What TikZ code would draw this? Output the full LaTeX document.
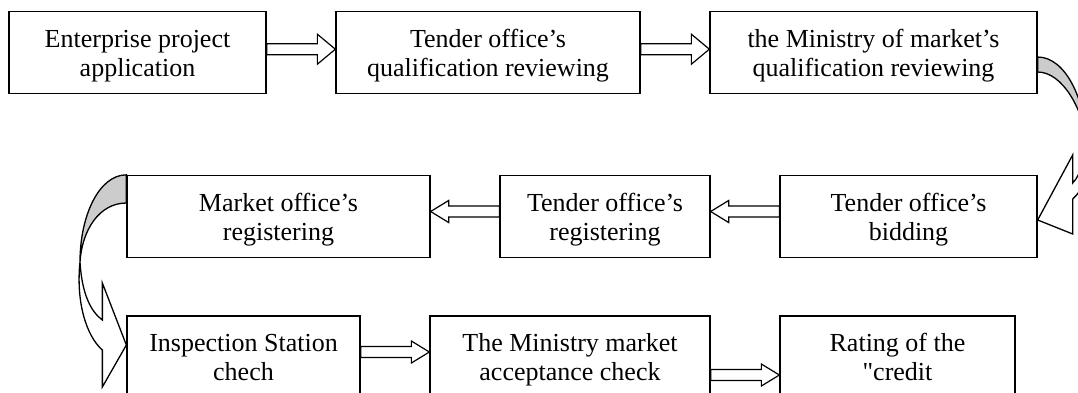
\documentclass[tikz,border=0pt]{standalone}
\usepackage{fontspec}
\setmainfont{Liberation Serif}[Ligatures=TeXOff]
\usetikzlibrary{calc}

% hollow block arrow between two points
\newcommand{\hollowarrow}[3][11]{%
  \path (#2) coordinate (ha) (#3) coordinate (hz);
  \path ($(hz)!18pt!(ha)$) coordinate (hb);
  \draw[line width=1.2pt, fill=white, line join=miter]
    ($(ha)!5.5pt!90:(hz)$) -- ($(hb)!5.5pt!-90:(ha)$) -- ($(hb)!#1pt!-90:(ha)$)
    -- (hz) -- ($(hb)!#1pt!90:(ha)$) -- ($(hb)!5.5pt!90:(ha)$)
    -- ($(ha)!5.5pt!-90:(hz)$) -- cycle;}

\begin{document}
\begin{tikzpicture}[
                x=1pt, y=-1pt,
                box/.style={draw, line width=1.3pt, minimum height=82pt, inner sep=0pt,
                            align=center, font=\fontsize{26}{29}\selectfont,
                            text height=53pt, text depth=6pt},
                ribbon/.style={draw, line width=1.3pt, fill=black!20},
                front/.style={draw, line width=1.3pt, fill=white, line join=miter}
            ]
            \useasboundingbox (0,0) rectangle (1078,392);
            \clip (0,0) rectangle (1078,392);

            % first row
            \node[box, minimum width=257pt] (app) at (137.5,52.5) {Enterprise project\\application};
            \node[box, minimum width=304pt] (tenderqual) at (488,52.5) {Tender office’s\\qualification reviewing};
            \node[box, minimum width=327pt] (ministryqual) at (873.5,52.5) {the Ministry of market’s\\qualification reviewing};

            % second row
            \node[box, minimum width=257pt] (bidding) at (908.5,216.5) {Tender office’s\\bidding};
            \node[box, minimum width=210pt] (tenderreg) at (605,216.5) {Tender office’s\\registering};
            \node[box, minimum width=303pt] (marketreg) at (278.5,216.5) {Market office’s\\registering};

            % third row
            \node[box, minimum width=233pt] (inspect) at (243.5,357) {Inspection Station\\chech};
            \node[box, minimum width=280pt] (accept) at (570,357) {The Ministry market\\acceptance check};
            \node[box, minimum width=235pt] (rating) at (897.5,357) {Rating of the\\"credit};

            % straight arrows
            \hollowarrow[15]{[yshift=3.3pt]app.east}{[yshift=3.3pt]tenderqual.west}
            \hollowarrow[15]{[yshift=3.3pt]tenderqual.east}{[yshift=3.3pt]ministryqual.west}
            \hollowarrow{[yshift=5pt]bidding.west}{[yshift=5pt]tenderreg.east}
            \hollowarrow{[yshift=5pt]tenderreg.west}{[yshift=5pt]marketreg.east}
            \hollowarrow{[yshift=5pt]inspect.east}{[yshift=5pt]accept.west}
            \hollowarrow{[yshift=-18pt]accept.east}{[yshift=-18pt]rating.west}

            % curved arrow on the right
            \coordinate (rp) at (1086,140);
            \coordinate (rtip) at ([yshift=-3.5pt]bidding.east);
            \draw[ribbon] ([yshift=-4.5pt]ministryqual.east) .. controls +(28,0) and +(-1,-40) .. (rp)
                .. controls +(-3,-30) and +(25,0) .. ([yshift=-19.5pt]ministryqual.east) -- cycle;
            \draw[front] (rp) .. controls +(-2,20) and +(8,-8) .. ($(rtip)+(35,-37)$)
                -- ($(rtip)+(35,-65)$) -- (rtip) -- ($(rtip)+(35,14)$) -- ($(rtip)+(35,-21)$)
                .. controls +(11,-9) and +(3,30) .. (rp) -- cycle;

            % curved arrow on the left
            \coordinate (lp) at (80,262);
            \coordinate (ltip) at ([yshift=12pt]inspect.west);
            \draw[ribbon] (marketreg.north west) .. controls +(-27,0) and +(0,-47) .. (lp)
                .. controls +(2,-32) and +(-27,0) .. ([yshift=13.5pt]marketreg.west) -- cycle;
            \draw[front] (lp) .. controls +(2,33) and +(-11,-8) .. ($(ltip)+(-24,-25)$)
                -- ($(ltip)+(-24,-62)$) -- (ltip) -- ($(ltip)+(-24,42)$) -- ($(ltip)+(-24,5)$)
                .. controls +(-17,-15) and +(-4,38) .. (lp) -- cycle;
        \end{tikzpicture}
\end{document}
